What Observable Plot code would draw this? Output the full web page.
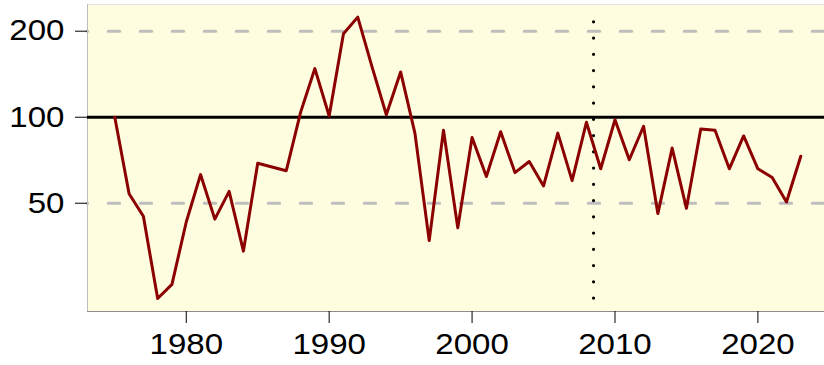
<!DOCTYPE html>
<html><head><meta charset="utf-8">
<script src="https://cdn.jsdelivr.net/npm/d3@7"></script>
<script src="https://cdn.jsdelivr.net/npm/@observablehq/plot@0.6"></script>
<style>html,body{margin:0;padding:0;background:#fff}</style>
</head><body><div id="chart"></div>
<script>
const years = [1975,1976,1977,1978,1979,1980,1981,1982,1983,1984,1985,1986,1987,1988,1989,1990,1991,1992,1993,1994,1995,1996,1997,1998,1999,2000,2001,2002,2003,2004,2005,2006,2007,2008,2009,2010,2011,2012,2013,2014,2015,2016,2017,2018,2019,2020,2021,2022,2023];
const values = [100,54,45,23.2,26,43,63,44,55,34,69,67,65,104,148,101,196,224,150,102,144,88,37,90,41,85,62,89,64,70,57.5,88,60,96,66,98,71,93,46,78,48,91,90,66,86,66,61.5,50.5,73];
const refLevel = [100];
const gridLevels = [50, 200];
const yTicks = [50, 100, 200];
const xTicks = [1980, 1990, 2000, 2010, 2020];
const markerYear = [2008.5];

const data = years.map((y, i) => ({year: y, value: values[i]}));
const xDomain = [1973.09, 2024.66];
const yDomain = [20.9, 248];
const vMin = d3.min(values), vMax = d3.max(values);

const chart = Plot.plot({
  width: 824,
  height: 365,
  marginLeft: 87,
  marginRight: 0,
  marginTop: 4,
  marginBottom: 54,
  style: {fontFamily: "'Liberation Sans', Arial, sans-serif", background: "#fff", overflow: "visible"},
  x: {domain: xDomain},
  y: {type: "log", domain: yDomain},
  marks: [
    Plot.frame({fill: "#FFFDE0", stroke: null}),
    Plot.ruleY([yDomain[1]], {stroke: "#e2e2e2", strokeWidth: 1}),
    Plot.ruleX([xDomain[0]], {stroke: "#bdbdbd", strokeWidth: 1}),
    Plot.ruleY([yDomain[0]], {stroke: "#8c8c8c", strokeWidth: 1}),
    Plot.ruleY(gridLevels, {stroke: "#BEBEBE", strokeWidth: 3, strokeDasharray: "11.5,20.5", strokeDashoffset: 10.8, strokeLinecap: "round"}),
    Plot.ruleY(refLevel, {stroke: "#000", strokeWidth: 3}),
    Plot.ruleX(markerYear, {y1: vMin, y2: vMax, stroke: "#000", strokeWidth: 3.2, strokeDasharray: "0,16.25", strokeLinecap: "round"}),
    Plot.line(data, {x: "year", y: "value", stroke: "#8B0000", strokeWidth: 3, strokeLinejoin: "round", strokeLinecap: "round"}),
    Plot.axisY({ticks: yTicks, tickSize: 12, tickPadding: 11, fontSize: 29, tickFormat: d => String(d), label: null, stroke: "#000"}),
    Plot.axisX({ticks: xTicks, tickSize: 12, tickPadding: 10, fontSize: 29, tickFormat: d => String(d), label: null, stroke: "#000"})
  ]
});
// the reference's glyphs are slightly wider than Arial: stretch horizontally around each anchor
d3.select(chart).selectAll("g[aria-label$='tick label'] text").each(function() {
  const t = this.getAttribute("transform") || "";
  this.setAttribute("transform", t + " scale(1.14,1)");
});
document.getElementById("chart").appendChild(chart);
</script>
</body></html>
